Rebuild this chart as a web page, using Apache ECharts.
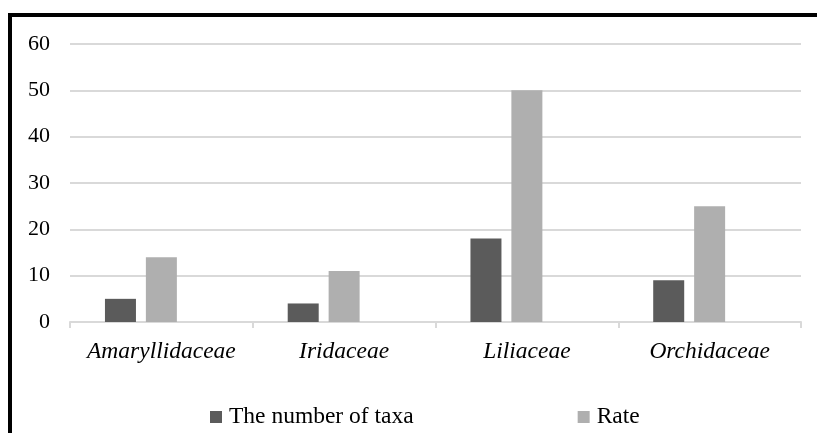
<!DOCTYPE html>
<html>
<head>
<meta charset="utf-8">
<script src="https://cdn.jsdelivr.net/npm/echarts@6/dist/echarts.min.js"></script>
<style>
  html, body { margin: 0; padding: 0; background: #fff; }
  #chart { width: 817px; height: 433px; }
</style>
</head>
<body>
<div id="chart"></div>
<script>
// families on the x axis
var families = ['Amaryllidaceae', 'Iridaceae', 'Liliaceae', 'Orchidaceae'];
// values
var taxaCount = [5, 4, 18, 9];
var rate = [14, 11, 50, 25];
// the original has an empty third series that still takes a bar slot
var emptySlot = [null, null, null, null];
var yTicks = [0, 10, 20, 30, 40, 50, 60];

var myChart = echarts.init(document.getElementById('chart'));

var fontFamily = '"Liberation Serif", "Times New Roman", serif';

var option = {
    backgroundColor: '#ffffff',
    animation: false,
    textStyle: { fontFamily: fontFamily },
    graphic: [{
        type: 'rect',
        shape: { x: 10, y: 15, width: 900, height: 600 },
        style: { fill: 'none', stroke: '#000', lineWidth: 4 },
        silent: true,
        z: 100
    }],
    legend: {
        data: ['The number of taxa', 'Rate'],
        icon: 'rect',
        left: 210,
        top: 405,
        padding: 0,
        itemWidth: 12,
        itemHeight: 12,
        itemGap: 164,
        textStyle: { fontFamily: fontFamily, fontSize: 23.5, color: '#000', padding: [0, 0, 0, 2] }
    },
    grid: { left: 70, right: 16, top: 44, bottom: 111 },
    xAxis: {
        type: 'category',
        data: families,
        axisLine: { lineStyle: { color: '#d9d9d9', width: 2 } },
        axisTick: { show: true, interval: 0, length: 6, lineStyle: { color: '#d9d9d9', width: 2 } },
        axisLabel: {
            interval: 0,
            hideOverlap: false,
            margin: 18,
            fontFamily: fontFamily,
            fontStyle: 'italic',
            fontSize: 23.5,
            color: '#000'
        }
    },
    yAxis: {
        type: 'value',
        min: yTicks[0],
        max: yTicks[yTicks.length - 1],
        interval: 10,
        axisLine: { show: false },
        axisTick: { show: false },
        axisLabel: { margin: 20, fontFamily: fontFamily, fontSize: 22, color: '#000' },
        splitLine: { lineStyle: { color: '#d9d9d9', width: 2 } }
    },
    series: [
        {
            name: 'The number of taxa',
            type: 'bar',
            data: taxaCount,
            barWidth: 31,
            barGap: '32%',
            itemStyle: { color: '#5b5b5b' }
        },
        {
            name: 'Rate',
            type: 'bar',
            data: rate,
            barWidth: 31,
            barGap: '32%',
            itemStyle: { color: '#afafaf' }
        },
        {
            name: 'empty',
            type: 'bar',
            data: emptySlot,
            barWidth: 31,
            barGap: '32%',
            itemStyle: { color: '#ffffff' }
        }
    ]
};

myChart.setOption(option);
</script>
</body>
</html>
